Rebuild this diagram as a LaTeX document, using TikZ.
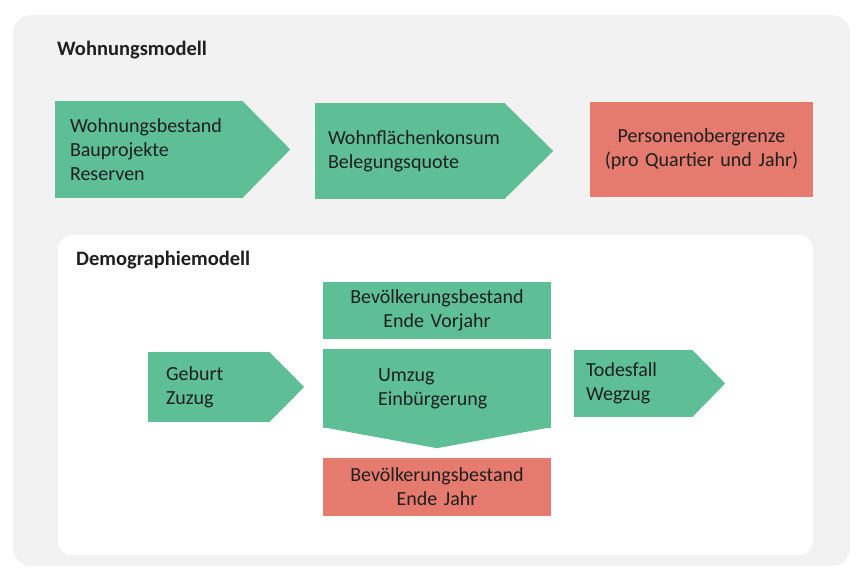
\documentclass[tikz,border=0pt]{standalone}
\usepackage{fontspec}
\setmainfont{Carlito}
\usetikzlibrary{calc}

\definecolor{flowgreen}{RGB}{94,190,150}
\definecolor{flowred}{RGB}{229,122,110}
\definecolor{panelgrey}{RGB}{242,242,242}

\begin{document}
\begin{tikzpicture}
	[x=1pt,y=-1pt,
	every node/.style={inner sep=0pt,text=black!88,font=\fontsize{20}{24}\selectfont},
	box/.style={shape=rectangle,fill=flowgreen},
	stock/.style={box,fill=flowred,align=center},
	title/.style={anchor=west,font=\fontsize{20.5}{24}\selectfont\bfseries}]
	\useasboundingbox (0,0) rectangle (859,577);
	\fill[panelgrey,rounded corners=18pt] (13,15) rectangle (850,566);
	\fill[white,rounded corners=14pt] (58,235) rectangle (813,555);
	
	\node[title] (wohnen) at (57,50) {Wohnungsmodell};
	\node[title] (demo) at (76,260) {Demographiemodell};
	
	\node[box,minimum height=97,inner xsep=15,text width=158,align=left] (bestand) at (149,149.5)
	{Wohnungsbestand\\Bauprojekte\\Reserven};
	\node[box,minimum height=96,inner xsep=13,text width=164,align=left] (konsum) at (410,151)
	{Wohnflächenkonsum\\Belegungsquote};
	\node[stock,minimum height=95,text width=223] (grenze) at (701.5,149.5)
	{Personenobergrenze\\(pro Quartier und Jahr)};
	
	\node[box,minimum height=57,text width=228,align=center] (vorjahr) at (437,310.5)
	{Bevölkerungsbestand\\Ende Vorjahr};
	\node[box,minimum height=79,inner xsep=55,text width=118,align=left] (umzug) at (437,388.5)
	{Umzug\\Einbürgerung};
	\node[stock,minimum height=58,text width=228] (jahr) at (437,487)
	{Bevölkerungsbestand\\Ende Jahr};
	\node[box,minimum height=70,inner xsep=18,text width=86,align=left] (geburt) at (209,387)
	{Geburt\\Zuzug};
	\node[box,minimum height=67,inner xsep=12,text width=95,align=left] (abgang) at (633.5,383.5)
	{Todesfall\\Wegzug};
	
	% pointed ends
	\foreach \n/\len in {bestand/47,konsum/48,geburt/34,abgang/32}
	\fill[flowgreen] ($(\n.north east)+(-1,0)$) -- ($(\n.east)+(\len,0)$)
	-- ($(\n.south east)+(-1,0)$) -- cycle;
	\fill[flowgreen] ($(umzug.south west)+(0,-1)$) -- ($(umzug.south)+(0,20)$)
	-- ($(umzug.south east)+(0,-1)$) -- cycle;
\end{tikzpicture}
\end{document}
